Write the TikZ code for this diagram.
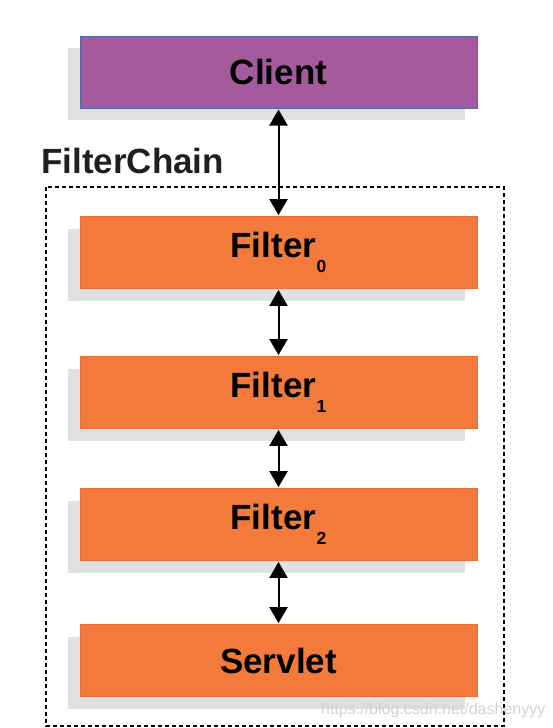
\documentclass[tikz,border=0pt]{standalone}
\usepackage{fontspec}
\setmainfont{Liberation Sans}
\usetikzlibrary{arrows.meta,shadows}
\definecolor{clientfill}{HTML}{A65A9E}
\definecolor{clientline}{HTML}{4F6CA8}
\definecolor{filterfill}{HTML}{F47A3C}
\definecolor{filterline}{HTML}{EC6B3A}
\definecolor{shadowgray}{HTML}{E0E0E0}
\definecolor{markgray}{HTML}{D2D2D2}
\newcommand\subidx[1]{\kern0.5pt\raisebox{-15pt}{\fontsize{17.5}{17.5}\selectfont #1}}
\begin{document}
\begin{tikzpicture}[x=1pt,y=-1pt,
  box/.style={rectangle, minimum width=397pt, minimum height=72pt, inner sep=0pt,
    font=\fontsize{35}{40}\selectfont\bfseries,
    drop shadow={shadow xshift=-12pt, shadow yshift=-12pt, fill=shadowgray, opacity=1}},
  clientbox/.style={box, fill=clientfill, draw=clientline, line width=1pt},
  filterbox/.style={box, fill=filterfill, draw=filterline, line width=0.8pt},
  link/.style={{Triangle[width=18pt,length=16pt]}-{Triangle[width=18pt,length=16pt]},
    line width=2pt, shorten <=1pt, shorten >=1pt},
  chainframe/.style={draw=black, line width=1.8pt, dash pattern=on 4pt off 3pt}]
\useasboundingbox (0,0) rectangle (552,728);
\fill[white] (0,0) rectangle (552,728);
\draw[chainframe] (46,187) rectangle (504,726);
\node[anchor=base west, inner sep=0pt, text=black!88, font=\fontsize{35}{40}\selectfont\bfseries] (chainlabel) at (41,173) {FilterChain};
\node[clientbox] (client) at (278.5,72) {Client};
\node[filterbox] (f0) at (278.5,252.5) {Filter\subidx{0}};
\node[filterbox] (f1) at (278.5,392.5) {Filter\subidx{1}};
\node[filterbox] (f2) at (278.5,524.5) {Filter\subidx{2}};
\node[filterbox] (servlet) at (278.5,660.5) {Servlet};
\draw[link] (client.south) -- (f0.north);
\draw[link] (f0.south) -- (f1.north);
\draw[link] (f1.south) -- (f2.north);
\draw[link] (f2.south) -- (servlet.north);
\node[anchor=base west, inner sep=0pt, text=markgray, font=\fontsize{16}{16}\selectfont] (mark) at (321,714) {https://blog.csdn.net/dashenyyy};
\end{tikzpicture}
\end{document}
